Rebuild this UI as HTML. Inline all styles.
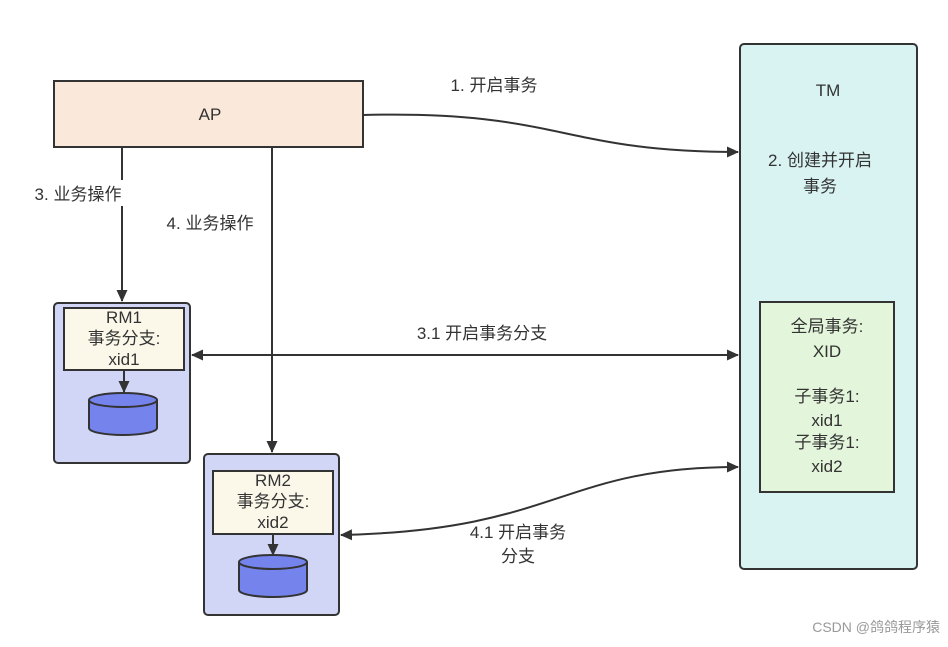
<!DOCTYPE html>
<html><head><meta charset="utf-8"><style>
body{margin:0;background:#fff;}
svg text{font-family:"Liberation Sans","Noto Sans CJK SC",sans-serif;fill:#333;font-size:17px;}
</style></head><body>
<svg width="948" height="642" xmlns="http://www.w3.org/2000/svg">
<defs><marker id="a" markerWidth="12" markerHeight="12" refX="11" refY="6" orient="auto-start-reverse" markerUnits="userSpaceOnUse"><path d="M0,0.5L12,6L0,11.5z" fill="#333"/></marker></defs>
<rect x="740" y="44" width="177" height="525" rx="4" fill="#d9f3f3" stroke="#333" stroke-width="2"/>
<text x="828" y="96" text-anchor="middle">TM</text>
<text x="820" y="166" text-anchor="middle">2. 创建并开启</text>
<text x="820" y="192" text-anchor="middle">事务</text>
<rect x="760" y="302" width="134" height="190" fill="#e3f5da" stroke="#333" stroke-width="2"/>
<text x="827" y="332" text-anchor="middle">全局事务:</text>
<text x="827" y="357" text-anchor="middle">XID</text>
<text x="827" y="402" text-anchor="middle">子事务1:</text>
<text x="827" y="426" text-anchor="middle">xid1</text>
<text x="827" y="448" text-anchor="middle">子事务1:</text>
<text x="827" y="472" text-anchor="middle">xid2</text>
<rect x="54" y="81" width="309" height="66" fill="#fae8da" stroke="#333" stroke-width="2"/>
<text x="210" y="120" text-anchor="middle">AP</text>
<rect x="54" y="303" width="136" height="160" rx="4" fill="#d1d6f7" stroke="#333" stroke-width="2"/>
<rect x="64" y="308" width="120" height="62" fill="#fbf8ea" stroke="#333" stroke-width="2"/>
<text x="124" y="323" text-anchor="middle">RM1</text>
<text x="124" y="344" text-anchor="middle">事务分支:</text>
<text x="124" y="365" text-anchor="middle">xid1</text>
<line x1="124" y1="370" x2="124" y2="392" stroke="#333" stroke-width="2" marker-end="url(#a)"/>
<path d="M89,400 v28 a34,7 0 0 0 68,0 v-28" fill="#7584ec" stroke="#333" stroke-width="2"/>
<ellipse cx="123" cy="400" rx="34" ry="7" fill="#7584ec" stroke="#333" stroke-width="2"/>
<rect x="204" y="454" width="135" height="161" rx="4" fill="#d1d6f7" stroke="#333" stroke-width="2"/>
<rect x="213" y="471" width="120" height="63" fill="#fbf8ea" stroke="#333" stroke-width="2"/>
<text x="273" y="486" text-anchor="middle">RM2</text>
<text x="273" y="507" text-anchor="middle">事务分支:</text>
<text x="273" y="528" text-anchor="middle">xid2</text>
<line x1="273" y1="534" x2="273" y2="555" stroke="#333" stroke-width="2" marker-end="url(#a)"/>
<path d="M239,562 v28 a34,7 0 0 0 68,0 v-28" fill="#7584ec" stroke="#333" stroke-width="2"/>
<ellipse cx="273" cy="562" rx="34" ry="7" fill="#7584ec" stroke="#333" stroke-width="2"/>
<path d="M363,115 C560,110 560,152 738,152" fill="none" stroke="#333" stroke-width="2" marker-end="url(#a)"/>
<line x1="122" y1="147" x2="122" y2="301" stroke="#333" stroke-width="2" marker-end="url(#a)"/>
<line x1="272" y1="147" x2="272" y2="452" stroke="#333" stroke-width="2" marker-end="url(#a)"/>
<line x1="192" y1="355" x2="738" y2="355" stroke="#333" stroke-width="2" marker-start="url(#a)" marker-end="url(#a)"/>
<path d="M341,535 C560,530 560,467 738,467" fill="none" stroke="#333" stroke-width="2" marker-start="url(#a)" marker-end="url(#a)"/>
<rect x="440" y="72" width="108" height="26" fill="#fff"/>
<text x="494" y="91" text-anchor="middle">1. 开启事务</text>
<rect x="28" y="180" width="102" height="26" fill="#fff"/>
<text x="78" y="200" text-anchor="middle">3. 业务操作</text>
<text x="210" y="229" text-anchor="middle">4. 业务操作</text>
<rect x="405" y="320" width="150" height="26" fill="#fff"/>
<text x="482" y="339" text-anchor="middle">3.1 开启事务分支</text>
<text x="518" y="538" text-anchor="middle">4.1 开启事务</text>
<text x="518" y="562" text-anchor="middle">分支</text>
<text x="940" y="632" text-anchor="end" style="font-size:14px;fill:#999">CSDN @鸽鸽程序猿</text>
</svg>
</body></html>
